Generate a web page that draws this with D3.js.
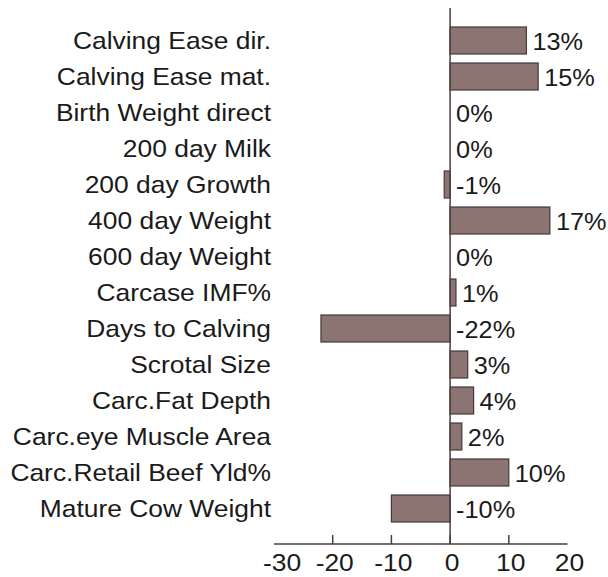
<!DOCTYPE html>
<html><head><meta charset="utf-8">
<script src="https://cdn.jsdelivr.net/npm/d3@7"></script>
<style>body{margin:0;background:#fff}svg{display:block}</style>
</head><body>
<svg id="c" width="608" height="577"></svg>
<script>
const categories = ["Calving Ease dir.","Calving Ease mat.","Birth Weight direct","200 day Milk","200 day Growth","400 day Weight","600 day Weight","Carcase IMF%","Days to Calving","Scrotal Size","Carc.Fat Depth","Carc.eye Muscle Area","Carc.Retail Beef Yld%","Mature Cow Weight"];
const values = [13,15,0,0,-1,17,0,1,-22,3,4,2,10,-10];
const valueLabels = ["13%","15%","0%","0%","-1%","17%","0%","1%","-22%","3%","4%","2%","10%","-10%"];
const xTicks = [-30,-20,-10,0,10,20];

const svg = d3.select("#c");
const x = d3.scaleLinear().domain([-30,20]).range([274,567.5]);
const y = d3.scaleBand().domain(categories).range([22.5,526.5]).paddingInner(0.25).paddingOuter(0.125);
const SX = 1.1, FS = 24, font = "Liberation Sans, Arial, sans-serif", tc = "#1a1a1a";

function txt(g, xx, yy, s, anchor, size){
  return g.append("text").attr("transform",`translate(${xx},${yy}) scale(${SX},1)`)
    .attr("text-anchor",anchor).attr("dominant-baseline","central")
    .attr("font-family",font).attr("font-size",size||FS).attr("fill",tc).text(s);
}

// bars
svg.append("g").selectAll("rect").data(values).join("rect")
  .attr("x",d=>x(Math.min(0,d))).attr("width",d=>Math.abs(x(d)-x(0)))
  .attr("y",(d,i)=>y(categories[i])).attr("height",y.bandwidth())
  .attr("fill","#8c7473").attr("stroke","#45383a").attr("stroke-width",1.2);

// zero line
svg.append("line").attr("x1",x(0)).attr("x2",x(0)).attr("y1",8).attr("y2",544)
  .attr("stroke","#4a3e3f").attr("stroke-width",1.5);

// x axis
const axisY = 544;
const ax = svg.append("g");
ax.append("line").attr("x1",x(-30)).attr("x2",x(20)).attr("y1",axisY).attr("y2",axisY)
  .attr("stroke","#4a3e3f").attr("stroke-width",1.5);
xTicks.filter(t=>t>-30 && t<20).forEach(t=>{
  ax.append("line").attr("x1",x(t)).attr("x2",x(t)).attr("y1",axisY-9).attr("y2",axisY)
    .attr("stroke","#4a3e3f").attr("stroke-width",1.5);
});
xTicks.forEach((t,i)=> txt(ax, x(t) + (i===0 ? 8 : 2), 562, String(t), "middle"));

// category labels
const lg = svg.append("g");
categories.forEach(c=> txt(lg, 271, y(c)+y.bandwidth()/2, c, "end"));

// value labels
const vg = svg.append("g");
values.forEach((v,i)=> txt(vg, x(Math.max(0,v))+6, y(categories[i])+y.bandwidth()/2+1, valueLabels[i], "start", 23));
</script>
</body></html>
